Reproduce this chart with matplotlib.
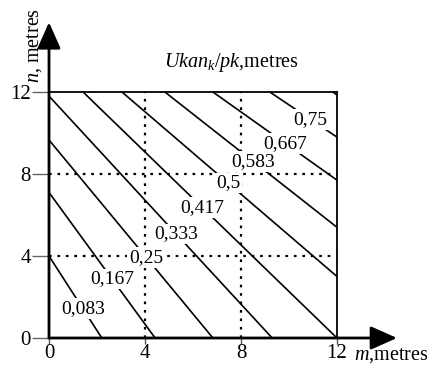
"""
Isolines of Ukan_k/pk over the (m, n) plane, drawn as straight segments.

Output: out.png
"""

import matplotlib.pyplot as plt

plt.rcParams["font.family"] = ["Liberation Serif", "DejaVu Serif"]
plt.rcParams["mathtext.fontset"] = "custom"
plt.rcParams["mathtext.rm"] = "Liberation Serif"
plt.rcParams["mathtext.it"] = "Liberation Serif:italic"

# Isoline labels (the last, unlabeled one only clips the top-right corner).
LEVELS = ["0,083", "0,167", "0,25", "0,333", "0,417", "0,5", "0,583", "0,667", "0,75", ""]

# Segment end points of each isoline (metres).
M_START = [0, 0, 0, 0, 1.42, 3.04, 4.83, 6.83, 9.2, 11.83]
N_START = [4.0, 7.1, 9.66, 11.8, 12, 12, 12, 12, 12, 12]
M_END = [2.2, 4.42, 6.83, 9.3, 12, 12, 12, 12, 12, 12]
N_END = [0, 0, 0, 0, 0, 3.0, 5.4, 7.7, 9.8, 11.85]

# m position of each label along its isoline.
LABEL_M = [1.42, 2.63, 4.04, 5.3, 6.4, 7.46, 8.5, 9.83, 10.9, None]

TICKS = [0, 4, 8, 12]
SIDE = 12


def main():
    fig = plt.figure(figsize=(4.36, 3.70), dpi=100)
    ax = fig.add_axes([49 / 436, 32 / 370, 288 / 436, 246 / 370])
    ax.set_xlim(0, SIDE)
    ax.set_ylim(0, SIDE)
    for s in ax.spines.values():
        s.set_visible(False)

    # Dotted grid at 4 and 8.
    for v in TICKS[1:-1]:
        ax.plot([v, v], [0, SIDE], color="black", lw=1.6, ls=(0, (1.2, 2.6)), zorder=1)
        ax.plot([0, SIDE], [v, v], color="black", lw=1.6, ls=(0, (1.2, 2.6)), zorder=1)

    # Isolines with their labels.
    for lab, m0, n0, m1, n1, lm in zip(LEVELS, M_START, N_START, M_END, N_END, LABEL_M):
        ax.plot([m0, m1], [n0, n1], color="black", lw=1.2, zorder=2,
                solid_capstyle="butt")
        if lm is None:
            continue
        ln = n0 + (n1 - n0) * (lm - m0) / (m1 - m0)
        ax.text(lm, ln, lab, ha="center", va="center", fontsize=14, zorder=3,
                bbox=dict(boxstyle="square,pad=0.1", fc="white", ec="none"))

    # Top and right edges of the square.
    ax.plot([0, SIDE], [SIDE, SIDE], color="black", lw=1.3, zorder=4, clip_on=False)
    ax.plot([SIDE, SIDE], [0, SIDE], color="black", lw=1.3, zorder=4, clip_on=False)

    # Axes with arrows.
    arrow = dict(arrowstyle="-|>,head_length=0.9,head_width=0.4", color="black",
                 lw=2, mutation_scale=18, shrinkA=0, shrinkB=0)
    ax.annotate("", xy=(14.5, 0), xytext=(0, 0), arrowprops=arrow,
                annotation_clip=False, zorder=5)
    ax.annotate("", xy=(0, 15.4), xytext=(0, 0), arrowprops=arrow,
                annotation_clip=False, zorder=5)

    ax.set_xticks(TICKS)
    ax.set_yticks(TICKS)
    ax.set_xticklabels([str(t) for t in TICKS], fontsize=15)
    ax.set_yticklabels([str(t) for t in TICKS], fontsize=15)
    ax.tick_params(axis="x", length=4, width=1, pad=0, color="#555555")
    ax.tick_params(axis="y", length=12, width=1, pad=1, color="#666666")

    ax.text(12.7, -0.85, r"$m$,metres", fontsize=14.5, ha="left", va="center",
            clip_on=False)
    ax.text(-0.6, 16.1, r"$n$, metres", fontsize=14.5, ha="center", va="top",
            rotation=90, clip_on=False)
    ax.text(7.6, 12.9, r"$Ukan_k/pk$,metres", fontsize=14.5, ha="center",
            va="bottom")

    fig.savefig("out.png", dpi=100)
    plt.close(fig)


if __name__ == "__main__":
    main()
